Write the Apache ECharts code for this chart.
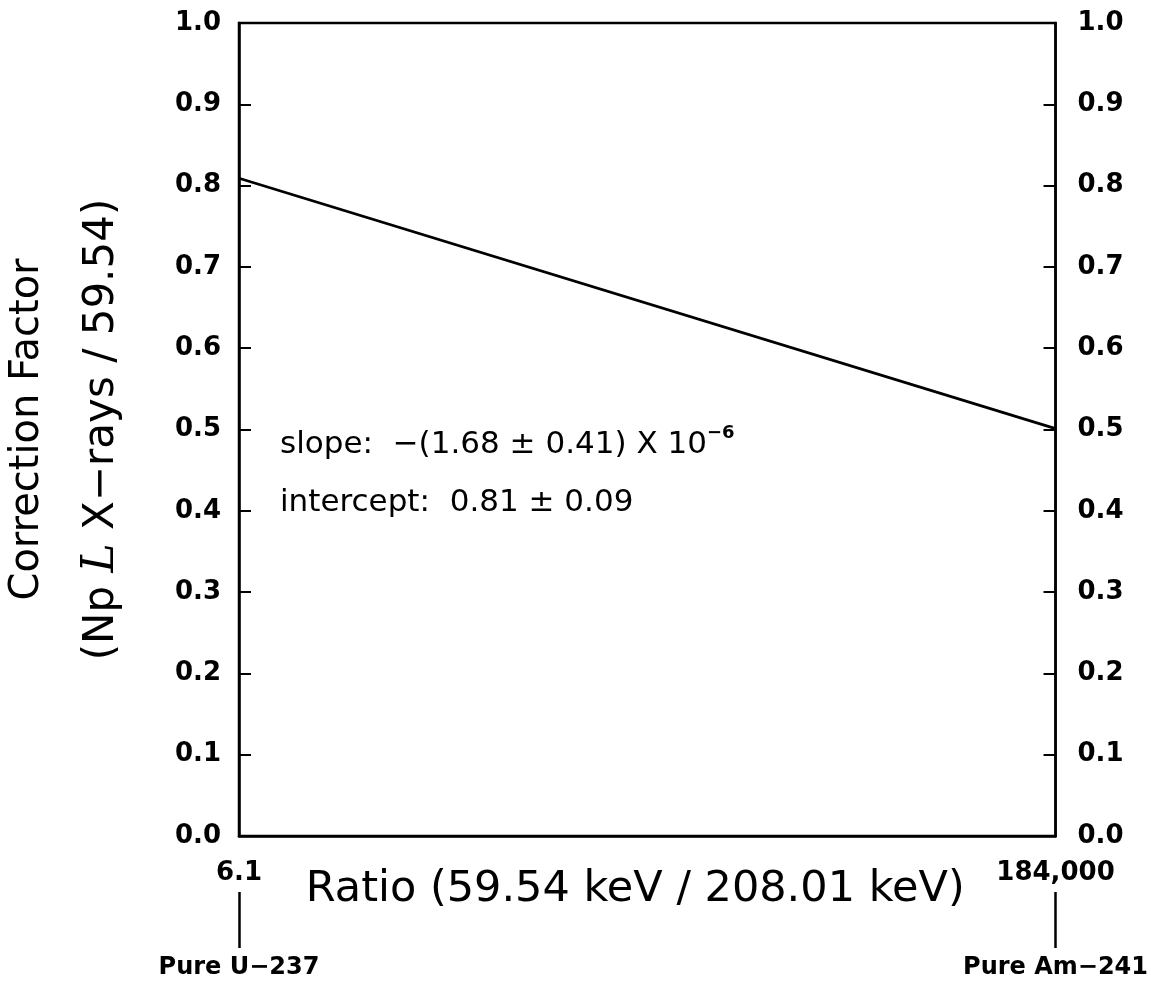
<!DOCTYPE html>
<html>
<head>
<meta charset="utf-8">
<script src="https://cdn.jsdelivr.net/npm/echarts@6/dist/echarts.min.js"></script>
<style>
  html, body { margin: 0; padding: 0; background: #fff; }
  #chart { width: 1151px; height: 983px; }
</style>
</head>
<body>
<div id="chart"></div>
<script>
// fitted line: correction factor vs. 59.54/208.01 keV ratio
const ratio = [6.1, 184000];
const factor = [0.809, 0.501];
const ratioLabels = ['6.1', '184,000'];
const sourceLabels = ['Pure U\u2212237', 'Pure Am\u2212241'];

const tickFont = { color: '#000', fontFamily: 'DejaVu Sans', fontWeight: 'bold', fontSize: 26 };

const chart = echarts.init(document.getElementById('chart'));

chart.setOption({
  backgroundColor: '#fff',
  animation: false,
  grid: {
    left: 238, right: 94, top: 23, bottom: 147,
    show: true, borderColor: '#000', borderWidth: 2.5
  },
  xAxis: [
    {
      type: 'value',
      min: ratio[0],
      max: ratio[1],
      axisLine: { show: true, lineStyle: { color: '#000', width: 2.5 } },
      axisTick: { show: false },
      splitLine: { show: false },
      axisLabel: {
        ...tickFont,
        margin: 24,
        customValues: ratio,
        formatter: (v) => ratioLabels[ratio.indexOf(v)]
      },
      name: 'Ratio (59.54 keV / 208.01 keV)',
      nameLocation: 'middle',
      nameMoveOverlap: false,
      nameGap: 32,
      nameTextStyle: {
        color: '#000', fontFamily: 'DejaVu Sans', fontSize: 43, padding: [0, 24, 0, 0]
      }
    },
    {
      type: 'value',
      min: ratio[0],
      max: ratio[1],
      position: 'bottom',
      offset: 56,
      axisLine: { show: false, onZero: false },
      axisTick: {
        show: true, length: 56, customValues: ratio,
        lineStyle: { color: '#000', width: 2.5 }
      },
      splitLine: { show: false },
      axisLabel: {
        ...tickFont,
        fontSize: 24,
        margin: 64,
        customValues: ratio,
        formatter: (v) => sourceLabels[ratio.indexOf(v)]
      }
    }
  ],
  yAxis: [
    {
      type: 'value',
      position: 'left',
      min: 0, max: 1, interval: 0.1,
      axisLine: { show: true, lineStyle: { color: '#000', width: 2.5 } },
      axisTick: { show: true, inside: true, length: 12, lineStyle: { color: '#000', width: 2 } },
      splitLine: { show: false },
      axisLabel: { ...tickFont, margin: 18, formatter: (v) => v.toFixed(1) },
      name: '{a|Correction Factor}\n{b|(Np }{i|L}{b| X\u2212rays / 59.54)}',
      nameLocation: 'middle',
      nameRotate: 90,
      nameGap: 100,
      nameTextStyle: {
        color: '#000',
        rich: {
          a: { fontFamily: 'DejaVu Sans', fontSize: 40, lineHeight: 74, color: '#000' },
          b: { fontFamily: 'DejaVu Sans', fontSize: 42, lineHeight: 74, color: '#000' },
          i: { fontFamily: 'DejaVu Serif', fontStyle: 'italic', fontSize: 44, lineHeight: 74, color: '#000' }
        }
      }
    },
    {
      type: 'value',
      position: 'right',
      min: 0, max: 1, interval: 0.1,
      axisLine: { show: true, lineStyle: { color: '#000', width: 2.5 } },
      axisTick: { show: true, inside: true, length: 12, lineStyle: { color: '#000', width: 2 } },
      splitLine: { show: false },
      axisLabel: { ...tickFont, margin: 22, formatter: (v) => v.toFixed(1) }
    }
  ],
  series: [
    {
      type: 'line',
      data: ratio.map((r, i) => [r, factor[i]]),
      showSymbol: false,
      lineStyle: { color: '#000', width: 2.8 }
    }
  ],
  graphic: [
    {
      type: 'text',
      left: 280,
      top: 424,
      style: {
        text: '{n|slope:  \u2212(1.68 \u00b1 0.41) X 10}{s|\u22126}',
        rich: {
          n: { fontFamily: 'DejaVu Sans', fontSize: 31, lineHeight: 42, fill: '#000' },
          s: { fontFamily: 'DejaVu Sans', fontWeight: 'bold', fontSize: 18, lineHeight: 42, verticalAlign: 'top', fill: '#000' }
        }
      }
    },
    {
      type: 'text',
      left: 280,
      top: 487,
      style: {
        text: 'intercept:  0.81 \u00b1 0.09',
        font: '31px "DejaVu Sans"',
        fill: '#000'
      }
    }
  ]
});
</script>
</body>
</html>
